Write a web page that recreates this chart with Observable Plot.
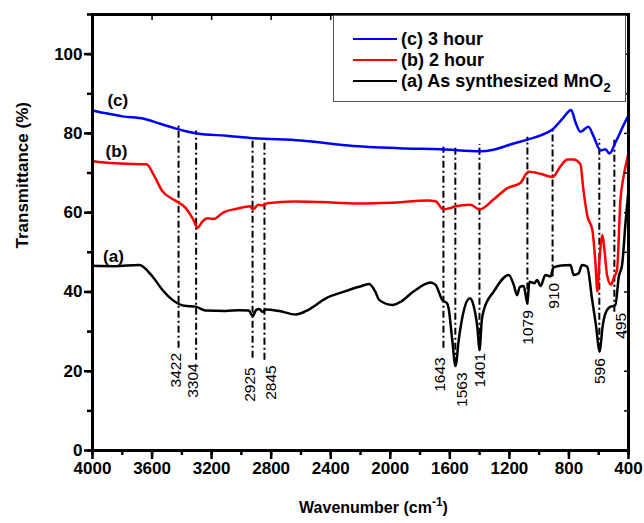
<!DOCTYPE html>
<html><head><meta charset="utf-8">
<script src="https://cdn.jsdelivr.net/npm/d3@7"></script>
<script src="https://cdn.jsdelivr.net/npm/@observablehq/plot@0.6"></script>
<style>
body{margin:0;background:#fff;font-family:"Liberation Sans",Arial,sans-serif;}
#wrap{position:relative;width:644px;height:523px;}
#legend{position:absolute;left:333px;top:15px;width:293px;height:87px;border:1px solid #555;background:#fff;box-sizing:border-box;font-weight:bold;font-size:18px;color:#000;}
.row{position:absolute;left:19px;display:flex;align-items:center;height:20px;white-space:nowrap;}
.sw{width:44px;height:2.5px;margin-right:4px}
sub{font-size:13px;vertical-align:-5px;line-height:0}
</style></head>
<body><div id="wrap"><div id="chart"></div><div id="legend"></div></div>
<script>
// ---- data ----
const seriesNames = ["(c) 3 hour", "(b) 2 hour", "(a) As synthesized MnO2"];
const seriesColors = ["#0000ff", "#ff0000", "#000000"];
const curveTags = ["(c)", "(b)", "(a)"];
const tagWn = [3830, 3839, 3859];
const tagT = [88.2, 75.5, 48.9];

const cWn = [4000,3900,3800,3655,3550,3456,3380,3297,3100,2919,2600,2247,1900,1663,1394,1307,1193,1072,990,911,837,785,756,723,669,635,588,555,528,488,420,400];
const cT  = [85.8,85.0,84.3,83.7,82.5,81.4,80.6,80.0,79.4,78.8,78.2,76.8,76.2,76.0,75.5,75.9,77.2,78.5,79.5,81.0,84.0,85.9,82.8,80.4,81.7,79.3,75.7,76.0,74.9,77.7,83.1,84.5];

const bWn = [4000,3900,3812,3637,3590,3530,3456,3375,3322,3295,3261,3228,3187,3120,3030,2939,2925,2885,2858,2825,2650,2400,2200,2000,1750,1696,1643,1596,1562,1529,1461,1401,1307,1213,1126,1072,991,911,857,810,770,723,703,676,643,622,609,595,575,560,544,517,500,477,454,434,414,400];
const bT  = [73.0,72.6,72.4,72.2,69.6,65.4,63.3,61.2,58.2,56.2,57.8,58.6,58.4,60.1,61.0,61.6,60.8,62.0,61.8,62.4,62.8,62.6,62.3,62.5,63.1,62.9,60.8,61.2,61.6,61.8,62.0,60.8,63.3,66.2,67.5,70.3,69.8,69.0,71.7,73.4,73.4,72.2,65.8,59.1,55.7,47.3,40.1,48.0,54.4,50.0,44.3,41.8,43.5,45.6,63.3,68.9,72.7,75.0];

const aWn = [4000,3850,3687,3597,3530,3463,3384,3306,3241,3107,3015,2950,2925,2900,2880,2858,2836,2746,2635,2550,2433,2300,2209,2142,2100,2075,1985,1932,1844,1730,1696,1651,1618,1609,1584,1562,1540,1508,1466,1440,1415,1401,1385,1372,1305,1204,1171,1148,1130,1104,1085,1079,1066,1032,1014,990,958,924,904,850,790,768,735,712,678,644,620,593,575,555,521,500,488,465,443,420,400];
const aT  = [46.6,46.5,46.8,43.9,40.5,38.0,36.5,36.3,35.3,35.2,35.4,35.3,33.9,35.5,35.7,35.0,35.6,35.2,34.3,35.5,38.4,40.2,41.3,42.0,40.0,38.0,36.7,37.5,40.1,42.4,41.8,38.0,37.1,36.0,28.0,21.3,28.0,35.0,38.4,36.5,31.0,25.3,33.0,35.4,40.1,44.3,41.8,39.2,41.3,41.5,38.0,37.1,42.6,42.2,43.0,41.5,44.3,43.9,46.2,46.7,46.8,44.3,44.7,46.8,46.4,38.0,32.0,24.9,31.0,34.6,36.3,36.5,36.7,43.9,46.8,57.5,65.8];

const peakWn = [3422,3304,2925,2845,1643,1563,1401,1079,910,596,495];
const peakTop = [82.0,80.6,78.7,78.7,76.5,76.5,77.2,79.0,81.5,78.5,78.5];
const peakBottom = [25.8,22.8,23.3,22.8,25.8,21.5,25.3,36.7,43.8,25.3,34.9];
const peakLabelT = [24.6,22.0,21.0,21.5,23.5,19.7,24.6,35.4,42.3,23.3,34.7];
const peaksLabelLeft = [3422, 3304, 2925, 1643];
const peaksLabelRight = [2845, 1563, 495];

const xTicks = [4000,3600,3200,2800,2400,2000,1600,1200,800,400];
const xMinor = d3.range(400, 4001, 200);
const yTicks = [0,20,40,60,80,100];
const yMinor = d3.range(0, 111, 10);

// ---- tables ----
const rows = [];
[[cWn,cT],[bWn,bT],[aWn,aT]].forEach(([w,t],k) => w.forEach((x,i) => rows.push({s: seriesNames[k], x, y: t[i]})));
const peaks = peakWn.map((w,i) => ({w, top: peakTop[i], bot: peakBottom[i], lab: peakLabelT[i]}));
const peaksL = peaks.filter(p => peaksLabelLeft.includes(p.w));
const peaksR = peaks.filter(p => peaksLabelRight.includes(p.w));
const peaksC = peaks.filter(p => !peaksLabelLeft.includes(p.w) && !peaksLabelRight.includes(p.w));
const tags = curveTags.map((t,i) => ({t, x: tagWn[i], y: tagT[i]}));

const peakText = (data, dx) => Plot.text(data, {x: "w", y: "lab", text: d => String(d.w), rotate: -90, textAnchor: "end", dx, fontSize: 15.5, fill: "#000"});

const font = "Liberation Sans, Arial, sans-serif";
const chart = Plot.plot({
  width: 644, height: 523,
  marginLeft: 92, marginRight: 16, marginTop: 14, marginBottom: 73,
  style: {fontFamily: font, background: "#fff", color: "#000"},
  x: {domain: [4000, 400]},
  y: {domain: [0, 110]},
  color: {domain: seriesNames, range: seriesColors},
  marks: [
    Plot.ruleX(peaks, {x: "w", y1: "bot", y2: "top", stroke: "#000", strokeWidth: 2, strokeDasharray: "7,3,2,3"}),
    Plot.line(rows, {x: "x", y: "y", z: "s", stroke: "s", strokeWidth: 2.5, curve: "monotone-x"}),
    peakText(peaksL, -3),
    peakText(peaksC, 1),
    peakText(peaksR, 7),
    Plot.text(tags, {x: "x", y: "y", text: "t", fontSize: 17, fontWeight: "bold", fill: "#000"}),
    Plot.axisX({ticks: xMinor, tickSize: 5, tickFormat: () => "", strokeWidth: 2.5, label: null}),
    Plot.axisX({ticks: xTicks, tickSize: 9, tickPadding: 2, strokeWidth: 2.5, fontSize: 17, fontWeight: "bold", tickFormat: d => String(d), label: null}),
    Plot.axisX({anchor: "top", ticks: xTicks, tickSize: -5, tickFormat: () => "", strokeWidth: 1.5, label: null}),
    Plot.axisY({ticks: yMinor, tickSize: 5, tickFormat: () => "", strokeWidth: 2.5, label: null}),
    Plot.axisY({ticks: yTicks, tickSize: 8, tickPadding: 2, strokeWidth: 2.5, fontSize: 17, fontWeight: "bold", tickFormat: d => String(d), label: null}),
    Plot.axisY({anchor: "right", ticks: yMinor, tickSize: -5, tickFormat: () => "", strokeWidth: 1.5, label: null}),
    Plot.frame({stroke: "#000", strokeWidth: 3}),
    Plot.text(["Transmittance (%)"], {frameAnchor: "left", dx: -70, dy: 16, rotate: -90, fontSize: 17, fontWeight: "bold", fill: "#000"}),
    Plot.text(["Wavenumber (cm-1)"], {frameAnchor: "bottom", dx: 13, dy: 62, fontSize: 16, fontWeight: "bold", fill: "#000"})
  ]
});
document.getElementById("chart").appendChild(chart);

// superscript in x title
d3.select(chart).selectAll("text").filter(function(){ return this.textContent === "Wavenumber (cm-1)"; }).each(function(){
  const t = d3.select(this);
  t.text(null);
  t.append("tspan").text("Wavenumber (cm");
  t.append("tspan").attr("dy", "-7").attr("font-size", "12").text("-1");
  t.append("tspan").attr("dy", "7").text(")");
});

// legend
const leg = document.getElementById("legend");
seriesNames.forEach((n,i) => {
  const r = document.createElement("div");
  r.className = "row";
  r.style.top = (13 + i * 21) + "px";
  const sw = document.createElement("div");
  sw.className = "sw"; sw.style.background = seriesColors[i];
  const lab = document.createElement("span");
  if (n.endsWith("MnO2")) { lab.innerHTML = n.slice(0, -1) + "<sub>2</sub>"; } else { lab.textContent = n; }
  r.appendChild(sw); r.appendChild(lab);
  leg.appendChild(r);
});
</script></body></html>
